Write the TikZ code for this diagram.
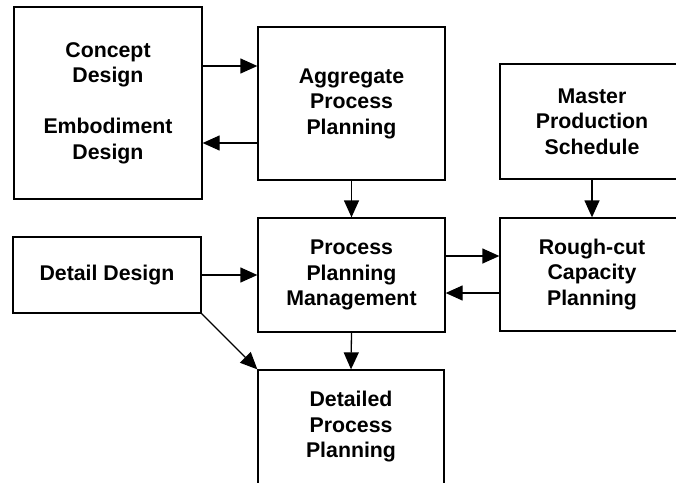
\documentclass[tikz,border=0pt]{standalone}
\usepackage{fontspec}
\setmainfont{Liberation Sans}
\usetikzlibrary{arrows.meta}
\begin{document}
\begin{tikzpicture}[x=1pt,y=-1pt,
  box/.style={draw=black,line width=1.3pt,inner sep=0pt,align=center,
    font=\fontsize{21.3}{25.5}\selectfont\bfseries},
  arr/.style={line width=1.3pt,-{Triangle[length=17pt,width=15pt]}}]
\useasboundingbox (0,0) rectangle (676,482);
\clip (0,0) rectangle (676,482);
\node[box,minimum width=188pt,minimum height=192pt] (concept) at (108,103)
  {Concept\\Design\\[25.5pt]Embodiment\\Design};
\node[box,minimum width=187pt,minimum height=153pt] (agg) at (351.5,103.5)
  {Aggregate\\Process\\Planning};
\node[box,minimum width=184pt,minimum height=115pt] (master) at (592,121.5)
  {Master\\Production\\Schedule};
\node[box,minimum width=184pt,minimum height=113pt] (rough) at (592,274.5)
  {Rough-cut\\Capacity\\Planning};
\node[box,minimum width=188pt,minimum height=76pt] (detail) at (107,275)
  {Detail Design};
\node[box,minimum width=187pt,minimum height=114pt] (ppm) at (351.5,275)
  {Process\\Planning\\Management};
\node[box,minimum width=186pt,minimum height=114pt] (detailed) at (351,427)
  {Detailed\\Process\\Planning};
\draw[arr] (concept.east |- 0,66) -- (agg.west |- 0,66);
\draw[arr] (agg.west |- 0,143) -- (concept.east |- 0,143);
\draw[arr] (agg.south) -- (ppm.north);
\draw[arr] (master.south) -- (rough.north);
\draw[arr] (ppm.east |- 0,256) -- (rough.west |- 0,256);
\draw[arr] (rough.west |- 0,293) -- (ppm.east |- 0,293);
\draw[arr] (detail.east) -- (ppm.west);
\draw[arr] (ppm.south) -- (detailed.north);
\draw[arr] (detail.south east) -- (detailed.north west);
\end{tikzpicture}
\end{document}
